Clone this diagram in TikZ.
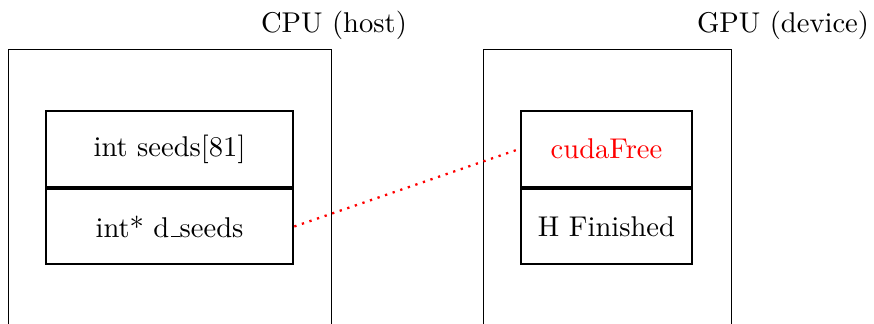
\documentclass[tikz,border=0pt]{standalone}
\usetikzlibrary{fit}
\newcommand{\lowbar}{\leavevmode\kern.06em\vbox{\hrule width.3em}}
\begin{document}
\begin{tikzpicture}[x=0.35pt,y=-0.35pt,
  outerbox/.style={draw=black, line width=0.25pt, inner sep=0pt},
  cell/.style={draw=black, line width=0.9pt, inner sep=0pt, font=\normalsize},
  title/.style={inner sep=0pt, font=\normalsize},
  link/.style={red, thick, dotted}]
\useasboundingbox (0,0) rectangle (874,323);
% outer boxes (extend below the visible area)
\node[outerbox, fit={(8,49)(331,345)}] (cpu) {};
\node[outerbox, fit={(483,49)(731,345)}] (gpu) {};
\node[title] (cpulabel) at (334,25) {CPU (host)};
\node[title] (gpulabel) at (783,25) {GPU (device)};
% CPU cells
\node[cell, fit={(46,111)(293,186.8)}, label={[font=\normalsize]center:int seeds[81]}] (seeds) {};
\node[cell, fit={(46,189)(293,264)}, label={[font=\normalsize]center:int* d\lowbar seeds}] (dseeds) {};
% GPU cells
\node[cell, fit={(521,111)(692,186.8)}, label={[font=\normalsize, text=red]center:cudaFree}] (free) {};
\node[cell, fit={(521,189)(692,264)}, label={[font=\normalsize]center:H Finished}] (fin) {};
% connector
\draw[link] (dseeds.east) -- (free.west);
\end{tikzpicture}
\end{document}
